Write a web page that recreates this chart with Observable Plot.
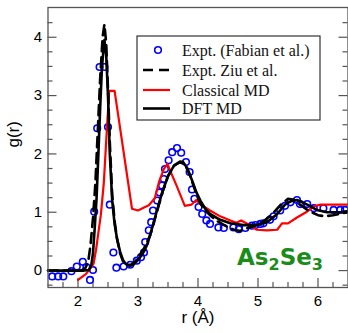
<!DOCTYPE html>
<html>
<head>
<meta charset="utf-8">
<script src="https://cdn.jsdelivr.net/npm/d3@7"></script>
<script src="https://cdn.jsdelivr.net/npm/@observablehq/plot@0.6"></script>
<style>
  html, body { margin: 0; padding: 0; background: #fff; }
  #chart { width: 348px; height: 333px; }
</style>
</head>
<body>
<div id="chart"></div>
<script>
// ---- Data ----
const seriesNames = ["Expt. (Fabian et al.)", "Expt. Ziu et al.", "Classical MD", "DFT MD"];

const fabianR = [1.57,1.67,1.755,1.89,1.98,2.08,2.14,2.2,2.25,2.27,2.32,2.36,2.44,2.50,2.53,2.59,2.64,2.76,2.87,2.98,3.05,3.1,3.12,3.18,3.22,3.25,3.32,3.36,3.4,3.43,3.45,3.51,3.57,3.65,3.72,3.8,3.86,3.9,3.94,4.01,4.07,4.14,4.2,4.34,4.43,4.59,4.68,4.79,4.9,4.96,5.04,5.09,5.2,5.26,5.37,5.45,5.54,5.65,5.7,5.82,5.93,6.09,6.26,6.37,6.45];
const fabianG = [-0.10,-0.10,-0.10,-0.01,0.07,0.15,0.06,-0.16,0.01,1.01,2.44,3.49,3.49,2.46,1.13,0.31,0.05,0.07,0.10,0.17,0.23,0.31,0.49,0.69,0.83,1.03,1.20,1.34,1.46,1.57,1.74,1.89,2.03,2.10,2.02,1.86,1.69,1.39,1.23,1.09,0.97,0.86,0.80,0.74,0.73,0.74,0.71,0.73,0.77,0.78,0.80,0.81,0.87,0.93,1.03,1.11,1.17,1.21,1.14,1.14,1.07,1.07,1.04,1.04,1.04];

const ziuR = [1.5,2.05,2.12,2.17,2.21,2.25,2.29,2.33,2.37,2.41,2.44,2.47,2.5,2.53,2.57,2.61,2.65,2.7,2.75,2.8,2.88,2.95,3.0,3.1,3.2,3.3,3.4,3.5,3.6,3.7,3.78,3.86,3.95,4.03,4.1,4.2,4.3,4.45,4.6,4.7,4.8,4.95,5.1,5.25,5.38,5.5,5.58,5.7,5.85,6.0,6.12,6.25,6.4,6.5];
const ziuG = [0,0,0.04,0.15,0.45,0.9,1.5,2.4,3.3,4.0,4.22,3.9,3.1,2.2,1.3,0.85,0.55,0.3,0.16,0.1,0.1,0.15,0.22,0.38,0.6,0.95,1.32,1.62,1.8,1.86,1.82,1.65,1.38,1.17,1.05,0.95,0.86,0.77,0.70,0.68,0.72,0.77,0.85,0.98,1.13,1.23,1.22,1.13,1.02,0.95,0.93,0.95,0.98,1.0];

const classicalR = [2.0,2.13,2.2,2.26,2.3,2.34,2.38,2.43,2.48,2.52,2.61,2.9,3.0,3.1,3.18,3.28,3.35,3.43,3.49,3.55,3.65,3.78,3.89,3.97,4.05,4.2,4.37,4.54,4.64,4.72,4.86,4.98,5.15,5.32,5.4,5.5,5.65,5.8,5.93,6.04,6.5];
const classicalG = [-0.16,-0.06,0.03,0.12,0.35,0.65,0.95,1.5,2.4,3.08,3.08,1.06,1.03,1.08,1.12,1.24,1.52,1.74,1.83,1.68,1.44,1.11,1.13,1.21,1.13,1.03,0.93,0.86,0.82,0.86,0.78,0.70,0.69,0.70,0.81,0.81,0.91,1.0,1.10,1.13,1.13];

const dftR = [1.5,2.1,2.18,2.22,2.25,2.28,2.31,2.34,2.37,2.4,2.44,2.47,2.5,2.53,2.57,2.61,2.65,2.7,2.75,2.8,2.86,2.92,3.0,3.05,3.1,3.15,3.2,3.3,3.4,3.5,3.6,3.7,3.75,3.82,3.9,3.97,4.04,4.12,4.2,4.37,4.54,4.76,4.98,5.15,5.32,5.45,5.55,5.65,5.72,5.82,5.98,6.15,6.37,6.5];
const dftG = [0,0,0.01,0.08,0.3,0.75,1.25,2.0,2.8,3.5,3.95,3.7,3.0,2.0,1.2,0.8,0.55,0.33,0.18,0.11,0.08,0.1,0.18,0.25,0.33,0.44,0.6,0.97,1.33,1.62,1.8,1.87,1.86,1.76,1.55,1.35,1.2,1.06,0.97,0.87,0.81,0.78,0.78,0.83,0.97,1.13,1.19,1.21,1.18,1.13,1.04,1.0,1.0,1.02];

const xMajorTicks = [2, 3, 4, 5, 6];
const xMinorTicks = [1.75, 2.25, 2.5, 2.75, 3.25, 3.5, 3.75, 4.25, 4.5, 4.75, 5.25, 5.5, 5.75, 6.25];
const yMajorTicks = [0, 1, 2, 3, 4];
const yMinorTicks = [-0.25, 0.25, 0.5, 0.75, 1.25, 1.5, 1.75, 2.25, 2.5, 2.75, 3.25, 3.5, 3.75, 4.25];

const xLabel = "r (Å)";
const yLabel = "g(r)";

// ---- Build tables ----
const fabian = fabianR.map((r, i) => ({r, g: fabianG[i]}));
const ziu = ziuR.map((r, i) => ({r, g: ziuG[i]}));
const classical = classicalR.map((r, i) => ({r, g: classicalG[i]}));
const dft = dftR.map((r, i) => ({r, g: dftG[i]}));

// ---- Layout ----
const W = 348, H = 333;
const mL = 47.5, mR = 0.5, mT = 7, mB = 46;
const pw = W - mL - mR, ph = H - mT - mB;
const majorLen = 9, minorLen = 5;
const frameColor = "#555";

const chart = Plot.plot({
  width: W, height: H,
  marginLeft: mL, marginRight: mR, marginTop: mT, marginBottom: mB,
  x: {domain: [1.5, 6.5]},
  y: {domain: [-0.29, 4.51]},
  style: {fontFamily: "Liberation Sans, Arial, sans-serif", background: "white", color: "black"},
  marks: [
    // inward ticks
    Plot.tickX(xMajorTicks, {x: d => d, stroke: frameColor, strokeWidth: 1.2, insetTop: ph - majorLen}),
    Plot.tickX(xMinorTicks, {x: d => d, stroke: frameColor, strokeWidth: 1.2, insetTop: ph - minorLen}),
    Plot.tickY(yMajorTicks, {y: d => d, stroke: frameColor, strokeWidth: 1.2, insetRight: pw - majorLen}),
    Plot.tickY(yMinorTicks, {y: d => d, stroke: frameColor, strokeWidth: 1.2, insetRight: pw - minorLen}),
    Plot.tickY(yMajorTicks, {y: d => d, stroke: frameColor, strokeWidth: 1.2, insetLeft: pw - majorLen}),
    Plot.tickY(yMinorTicks, {y: d => d, stroke: frameColor, strokeWidth: 1.2, insetLeft: pw - minorLen}),
    Plot.axisX({ticks: xMajorTicks, tickFormat: d => String(d), tickSize: 0, tickPadding: 8, fontSize: 15, label: null}),
    Plot.axisY({ticks: yMajorTicks, tickFormat: d => String(d), tickSize: 0, tickPadding: 6, fontSize: 15, label: null}),
    // data
    Plot.dot(fabian, {x: "r", y: "g", r: 3.3, stroke: "#0000ff", strokeWidth: 1.6, fill: "none"}),
    Plot.line(classical, {x: "r", y: "g", stroke: "#ff0000", strokeWidth: 2.2}),
    Plot.line(ziu, {x: "r", y: "g", stroke: "black", strokeWidth: 2.6, strokeDasharray: "10,6"}),
    Plot.line(dft, {x: "r", y: "g", stroke: "black", strokeWidth: 2.6}),
    Plot.frame({stroke: frameColor, strokeWidth: 1.3}),
    // axis titles
    Plot.text([xLabel], {frameAnchor: "bottom", dy: 35, fontSize: 17, fill: "black"}),
    Plot.text([yLabel], {frameAnchor: "left", dx: -34, rotate: -90, fontSize: 17, fill: "black"}),
    // compound label
    Plot.text(["As2Se3"], {frameAnchor: "bottom-right", textAnchor: "end", dx: -25, dy: -23,
      fontSize: 23, fontWeight: "bold", fill: "#1a8c1a", fontFamily: "DejaVu Sans", className: "chemlabel"})
  ]
});

document.getElementById("chart").appendChild(chart);

// rich text for the compound label (subscripts)
const svg = d3.select(chart);
svg.selectAll("g.chemlabel text").each(function() {
  const t = d3.select(this);
  t.text(null);
  const parts = [["As", false], ["2", true], ["Se", false], ["3", true]];
  for (const [s, sub] of parts) {
    const ts = t.append("tspan").text(s);
    if (sub) ts.attr("font-size", 16).attr("baseline-shift", "-5");
  }
});

// legend box
const lg = svg.append("g").attr("class", "legend").attr("text-anchor", "start");
lg.append("rect").attr("x", 137).attr("y", 36).attr("width", 183).attr("height", 84)
  .attr("fill", "white").attr("stroke", "#333").attr("stroke-width", 1.2);
const rows = [50, 70, 90, 108.5];
const styles = [
  {type: "dot"},
  {type: "line", stroke: "black", width: 2.6, dash: "10,6"},
  {type: "line", stroke: "#ff0000", width: 2.2},
  {type: "line", stroke: "black", width: 2.6}
];
seriesNames.forEach((name, i) => {
  const y = rows[i], s = styles[i];
  if (s.type === "dot") {
    lg.append("circle").attr("cx", 158).attr("cy", y).attr("r", 3.3)
      .attr("fill", "none").attr("stroke", "#0000ff").attr("stroke-width", 1.6);
  } else {
    const l = lg.append("line").attr("x1", 143).attr("x2", 170).attr("y1", y).attr("y2", y)
      .attr("stroke", s.stroke).attr("stroke-width", s.width);
    if (s.dash) l.attr("stroke-dasharray", s.dash);
  }
  lg.append("text").attr("x", 182).attr("y", y).attr("dy", "0.35em").attr("text-anchor", "start")
    .attr("font-family", "Liberation Serif, Times New Roman, serif").attr("font-size", 16)
    .attr("fill", "#111").text(name);
});
</script>
</body>
</html>
